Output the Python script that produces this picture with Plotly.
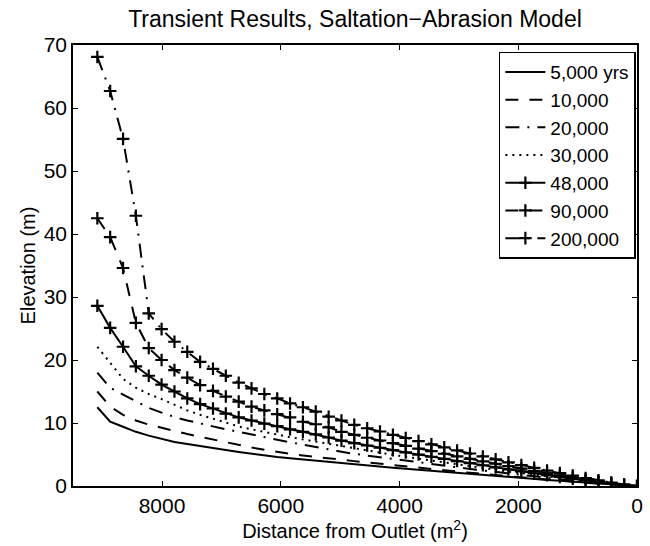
import plotly.graph_objects as go

distance = [9090, 8874, 8657, 8441, 8224, 8008, 7791, 7575, 7359, 7142, 6926, 6709, 6493,
            6277, 6060, 5844, 5627, 5411, 5194, 4978, 4762, 4545, 4329, 4112, 3896, 3680,
            3463, 3247, 3030, 2814, 2597, 2381, 2165, 1948, 1732, 1515, 1299, 1082, 866,
            650, 433, 217, 0]

elev_5k = [12.5, 10.2, 9.4, 8.6, 8.0, 7.5, 7.0, 6.65, 6.3, 6.0, 5.7, 5.4, 5.1, 4.85, 4.6, 4.4,
           4.2, 4.0, 3.8, 3.6, 3.4, 3.23, 3.06, 2.89, 2.73, 2.56, 2.40, 2.23, 2.07, 1.91, 1.74,
           1.59, 1.43, 1.27, 1.12, 0.97, 0.82, 0.67, 0.52, 0.38, 0.24, 0.11, 0]
elev_10k = [15.0, 12.6, 11.3, 10.4, 9.75, 9.3, 8.75, 8.25, 7.8, 7.35, 6.9, 6.5, 6.1, 5.75, 5.4,
            5.1, 4.85, 4.6, 4.35, 4.15, 3.95, 3.74, 3.52, 3.31, 3.10, 2.90, 2.70, 2.50, 2.30,
            2.10, 1.91, 1.72, 1.53, 1.35, 1.17, 1.00, 0.83, 0.67, 0.51, 0.36, 0.22, 0.10, 0]
elev_20k = [18.0, 15.6, 14.5, 13.4, 12.4, 11.65, 10.95, 10.4, 9.9, 9.45, 9.0, 8.6, 8.15, 7.75,
            7.35, 6.95, 6.55, 6.2, 5.8, 5.45, 5.1, 4.82, 4.55, 4.28, 4.01, 3.74, 3.48, 3.22,
            2.97, 2.71, 2.47, 2.22, 1.98, 1.74, 1.51, 1.29, 1.07, 0.86, 0.66, 0.47, 0.29, 0.13, 0]
elev_30k = [22.1, 19.6, 17.0, 15.6, 14.6, 13.8, 12.9, 12.0, 11.3, 10.7, 10.0, 9.45, 9.0, 8.55,
            8.2, 7.75, 7.4, 7.05, 6.65, 6.25, 5.9, 5.58, 5.26, 4.95, 4.64, 4.33, 4.03, 3.73,
            3.43, 3.14, 2.85, 2.57, 2.29, 2.02, 1.75, 1.49, 1.24, 1.00, 0.76, 0.54, 0.33, 0.15, 0]
elev_48k = [28.6, 25.1, 22.1, 19.0, 17.5, 16.1, 15.0, 13.9, 13.0, 12.3, 11.5, 10.9, 10.4, 9.9,
            9.5, 9.0, 8.6, 8.2, 7.7, 7.2, 6.8, 6.43, 6.07, 5.70, 5.34, 4.99, 4.64, 4.30, 3.96,
            3.62, 3.29, 2.96, 2.64, 2.33, 2.02, 1.72, 1.43, 1.15, 0.88, 0.62, 0.38, 0.17, 0]
elev_90k = [42.5, 39.5, 34.6, 25.9, 21.9, 20.0, 18.4, 17.2, 16.0, 15.1, 14.2, 13.4, 12.6, 12.0,
            11.4, 10.9, 10.2, 9.8, 9.3, 8.6, 8.1, 7.66, 7.22, 6.79, 6.37, 5.94, 5.53, 5.12,
            4.71, 4.31, 3.92, 3.53, 3.14, 2.77, 2.40, 2.05, 1.70, 1.37, 1.05, 0.74, 0.46, 0.20, 0]
elev_200k = [68.1, 62.7, 55.1, 42.9, 27.4, 24.9, 22.9, 21.3, 19.7, 18.6, 17.5, 16.4, 15.5, 14.6,
             13.9, 13.1, 12.5, 11.8, 11.0, 10.4, 9.7, 9.17, 8.65, 8.13, 7.62, 7.12, 6.62, 6.13,
             5.64, 5.16, 4.69, 4.22, 3.76, 3.32, 2.88, 2.45, 2.04, 1.64, 1.25, 0.89, 0.55, 0.24, 0]

series_names = ["5,000 yrs", "10,000", "20,000", "30,000", "48,000", "90,000", "200,000"]
series_values = [elev_5k, elev_10k, elev_20k, elev_30k, elev_48k, elev_90k, elev_200k]
series_dash = ["solid", "13px,11px", "14px,8px,2px,8px", "2px,5px", "solid", "13px,11px",
               "14px,8px,2px,8px"]
series_marker = [False, False, False, False, True, True, True]

x_ticks = [8000, 6000, 4000, 2000, 0]
y_ticks = [0, 10, 20, 30, 40, 50, 60, 70]

FONT = "Liberation Sans, Arial, Helvetica, sans-serif"

fig = go.Figure()
for name, vals, dash, mk in zip(series_names, series_values, series_dash, series_marker):
    fig.add_trace(go.Scatter(
        x=distance, y=vals, name=name,
        mode="lines+markers" if mk else "lines",
        line=dict(color="black", width=2, dash=dash),
        marker=dict(symbol="cross-thin", size=9, color="black",
                    line=dict(color="black", width=2.2)),
    ))

fig.update_layout(
    width=650, height=546,
    margin=dict(l=73, r=7, t=45, b=60),
    paper_bgcolor="white", plot_bgcolor="white",
    font=dict(family=FONT, size=21, color="black"),
    title=dict(text="Transient Results, Saltation\u2212Abrasion Model",
               x=0.5, xref="paper", y=0.965, yanchor="middle",
               font=dict(family=FONT, size=23, color="black")),
    showlegend=True,
    legend=dict(x=0.998, y=0.985, xanchor="right", yanchor="top",
                bgcolor="white", bordercolor="black", borderwidth=1.5,
                font=dict(family=FONT, size=19, color="black"),
                tracegroupgap=0, itemwidth=40),
)
fig.update_xaxes(
    range=[9500, 0], tickvals=x_ticks, ticktext=[str(v) for v in x_ticks],
    ticks="inside", ticklen=5, tickwidth=1, tickcolor="black",
    tickfont=dict(size=21),
    showline=True, linecolor="black", linewidth=1.6, mirror="ticks",
    showgrid=False, zeroline=False,
    title=dict(text="Distance from Outlet (m<sup>2</sup>)", standoff=4,
               font=dict(size=20)),
)
fig.update_yaxes(
    range=[0, 70], tickvals=y_ticks,
    ticks="inside", ticklen=5, tickwidth=1, tickcolor="black",
    tickfont=dict(size=21),
    showline=True, linecolor="black", linewidth=1.6, mirror="ticks",
    showgrid=False, zeroline=False,
    title=dict(text="Elevation (m)", standoff=3, font=dict(size=20)),
)

fig.write_html("out.html")
